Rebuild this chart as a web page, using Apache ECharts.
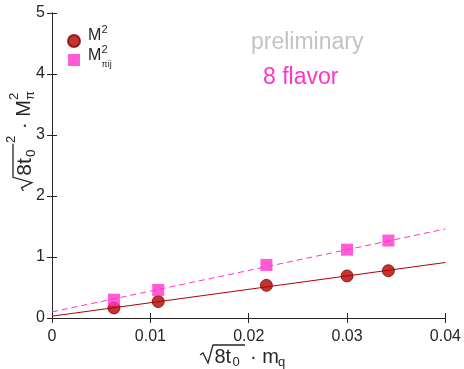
<!DOCTYPE html>
<html><head><meta charset="utf-8">
<script src="https://cdn.jsdelivr.net/npm/echarts@6/dist/echarts.min.js"></script>
<style>html,body{margin:0;padding:0;background:#fff}#c{width:464px;height:369px}</style>
</head><body><div id="c"></div>
<script>
const xVals = [0.0063, 0.0108, 0.0218, 0.0300, 0.0342];
const m2Vals = [0.165, 0.27, 0.535, 0.69, 0.775];
const mpiVals = [0.30, 0.46, 0.87, 1.12, 1.27];
const fitX = [0, 0.04];
const fitM2 = [0.03, 0.91];
const fitMpi = [0.10, 1.46];
const xTicks = [0, 0.01, 0.02, 0.03, 0.04];
const yTicks = [0, 1, 2, 3, 4, 5];

const RED = '#b30000', PINK = '#ff33cc', INK = '#262626';
const FONT = 'Liberation Sans';
const chart = echarts.init(document.getElementById('c'));
const zip = (a, b) => a.map((v, i) => [v, b[i]]);
const axisCommon = {
  axisLine: {show: true, lineStyle: {color: INK, width: 1}},
  axisTick: {show: true, inside: true, length: 5, lineStyle: {color: INK}},
  splitLine: {show: false}
};
const T = (text, x, y, size) => ({type: 'text', x, y,
  style: {text, fontSize: size, fontFamily: FONT, fill: INK, verticalAlign: 'top'}});
function sqrtPart(s) {
  return [
    {type: 'polyline', shape: {points: [[0, 10*s], [3*s, 8*s], [8*s, 18*s], [13*s, 0], [45*s, 0]]},
      style: {stroke: INK, lineWidth: 1.3, fill: null}},
    T('8t', 14.5*s, 2*s, 20*s),
    T('0', 32.5*s, 11*s, 13*s)
  ];
}
chart.setOption({
  animation: false,
  grid: {left: 52, right: 15, top: 13, bottom: 51},
  xAxis: [
    Object.assign({type: 'value', min: 0, max: 0.04, interval: 0.01, position: 'bottom',
      axisLabel: {color: INK, fontSize: 16, fontFamily: FONT, margin: 11,
        formatter: v => xTicks.includes(+v.toFixed(2)) ? String(+v.toFixed(2)) : ''}}, axisCommon),
    Object.assign({type: 'value', min: 0, max: 0.04, interval: 0.01, position: 'top',
      axisLabel: {show: false}}, axisCommon)
  ],
  yAxis: [
    Object.assign({type: 'value', min: 0, max: 5, interval: 1, position: 'left',
      axisLabel: {color: INK, fontSize: 16, fontFamily: FONT, margin: 7,
        formatter: v => yTicks.includes(v) ? String(v) : ''}}, axisCommon),
    Object.assign({type: 'value', min: 0, max: 5, interval: 1, position: 'right',
      axisLabel: {show: false}}, axisCommon)
  ],
  legend: {
    orient: 'vertical', left: 67, top: 34, padding: 0, itemGap: 6, itemWidth: 12, itemHeight: 12,
    data: [{name: 'M2', icon: 'circle'}, {name: 'Mpi', icon: 'rect'}],
    formatter: () => '',
    textStyle: {fontSize: 10}
  },
  series: [
    {name: 'fitM2', type: 'line', data: zip(fitX, fitM2), symbol: 'none',
      lineStyle: {color: RED, width: 1}, z: 1},
    {name: 'fitMpi', type: 'line', data: zip(fitX, fitMpi), symbol: 'none',
      lineStyle: {color: PINK, width: 1, type: [6, 4]}, z: 1},
    {name: 'M2', type: 'scatter', data: zip(xVals, m2Vals), symbol: 'circle', symbolSize: 12,
      itemStyle: {color: RED, borderColor: '#8a0000', borderWidth: 1}, z: 3},
    {name: 'Mpi', type: 'scatter', data: zip(xVals, mpiVals), symbol: 'rect', symbolSize: 12,
      itemStyle: {color: PINK}, z: 3}
  ],
  graphic: [
    {type: 'text', left: 251, top: 31, style: {text: 'preliminary', fontSize: 23, fontFamily: FONT, fill: '#c3c3c3'}},
    {type: 'text', left: 263, top: 66, style: {text: '8 flavor', fontSize: 23, fontFamily: FONT, fill: PINK}},
    // legend labels
    {type: 'group', x: 88, y: 26, children: [
      T('M', 0, 2, 16), T('2', 13.5, -2, 11),
      T('M', 0, 22, 16), T('2', 13.5, 18, 11), T('πij', 13.5, 34, 9)
    ]},
    // x axis name
    {type: 'group', x: 200, y: 345, children: sqrtPart(1).concat([
      T('· m', 50, 2, 20), T('q', 78, 11, 13)
    ])},
    // y axis name (rotated, reading upward)
    {type: 'group', x: 13, y: 191, rotation: Math.PI / 2, children: sqrtPart(1.05).concat([
      T('2', 48, -8, 13),
      T('· M', 62, 1, 20), T('2', 91, -5, 13), T('π', 91, 11, 13)
    ])}
  ]
});
</script></body></html>
